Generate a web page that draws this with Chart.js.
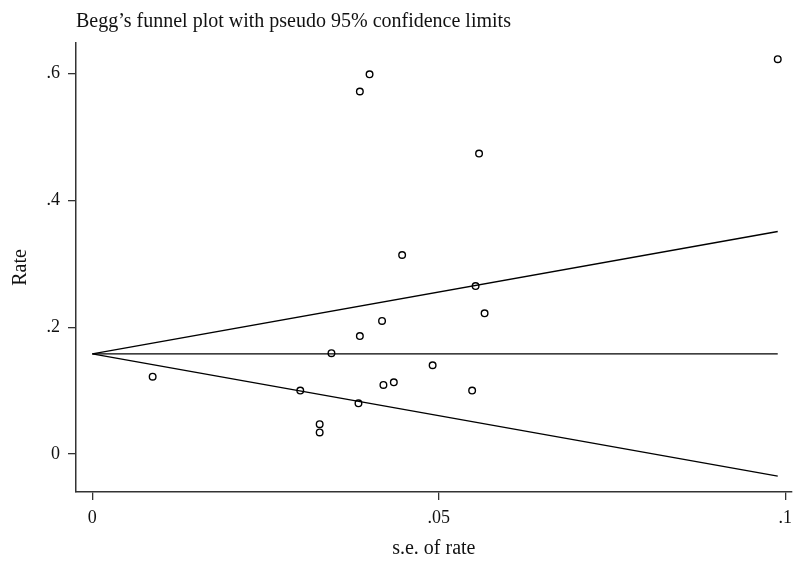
<!DOCTYPE html>
<html>
<head>
<meta charset="utf-8">
<script src="https://cdn.jsdelivr.net/npm/chart.js@4.4.1/dist/chart.umd.min.js"></script>
<style>
  html, body { margin: 0; padding: 0; background: #fff; }
  #wrap { width: 797px; height: 561px; position: relative; }
</style>
</head>
<body>
<div id="wrap"><canvas id="funnel"></canvas></div>
<script>
// study estimates (standard error, rate)
const seValues = [0.0400, 0.0386, 0.0989, 0.0558, 0.0447, 0.0553, 0.0566, 0.0418, 0.0386, 0.0345,
                  0.0491, 0.0420, 0.0435, 0.0548, 0.0300, 0.0384, 0.0328, 0.0328, 0.0087];
const rateValues = [0.599, 0.572, 0.623, 0.474, 0.314, 0.265, 0.222, 0.210, 0.186, 0.159,
                    0.140, 0.109, 0.113, 0.100, 0.100, 0.080, 0.047, 0.034, 0.122];

// pseudo 95% limits, read at se = 0 and se = max
const funnelSe = [0, 0.0989];
const pooledRate = [0.158, 0.158];
const upperLimit = [0.158, 0.351];
const lowerLimit = [0.158, -0.035];

const xTicks = [0, 0.05, 0.1];
const yTicks = [0, 0.2, 0.4, 0.6];

const serif = "'Liberation Serif', 'DejaVu Serif', serif";
const ink = '#000';
const axisInk = '#333';

function fmt(v) {
  if (v === 0) return '0';
  return String(+v.toFixed(3)).replace(/^0\./, '.').replace(/^-0\./, '-.');
}

function pairs(xs, ys) {
  return xs.map((x, i) => ({ x: x, y: ys[i] }));
}

function limitLine(ys) {
  return {
    type: 'line',
    data: pairs(funnelSe, ys),
    borderColor: ink,
    borderWidth: 1.4,
    pointRadius: 0,
    fill: false,
    tension: 0,
    order: 2
  };
}

new Chart(document.getElementById('funnel'), {
  type: 'scatter',
  data: {
    datasets: [
      {
        label: 'studies',
        data: pairs(seValues, rateValues),
        pointStyle: 'circle',
        pointRadius: 3.3,
        pointBorderWidth: 1.4,
        pointBorderColor: ink,
        pointBackgroundColor: 'rgba(255,255,255,0)',
        order: 1
      },
      limitLine(upperLimit),
      limitLine(pooledRate),
      limitLine(lowerLimit)
    ]
  },
  options: {
    responsive: true,
    maintainAspectRatio: false,
    animation: false,
    layout: { padding: 0 },
    plugins: {
      legend: { display: false },
      tooltip: { enabled: false },
      title: {
        display: true,
        text: 'Begg\u2019s funnel plot with pseudo 95% confidence limits',
        align: 'start',
        fullSize: false,
        color: '#111',
        font: { family: serif, size: 20, weight: 'normal' },
        padding: { top: 10, bottom: 9 }
      }
    },
    scales: {
      x: {
        type: 'linear',
        min: -0.00236,
        max: 0.1009,
        afterBuildTicks: (s) => { s.ticks = xTicks.map(v => ({ value: v })); },
        afterFit: (s) => { s.height = 69; s.paddingLeft = 0; s.paddingRight = 0; },
        grid: { drawOnChartArea: false, drawTicks: true, tickLength: 8, color: axisInk, lineWidth: 1.3 },
        border: { display: true, color: axisInk, width: 1.5 },
        ticks: {
          color: '#111',
          padding: 7,
          maxRotation: 0,
          autoSkip: false,
          font: { family: serif, size: 18 },
          callback: (v) => fmt(v)
        },
        title: {
          display: true,
          text: 's.e. of rate',
          color: '#111',
          font: { family: serif, size: 20 },
          padding: { top: 0, bottom: 0 }
        }
      },
      y: {
        type: 'linear',
        min: -0.06,
        max: 0.6485,
        afterBuildTicks: (s) => { s.ticks = yTicks.map(v => ({ value: v })); },
        afterFit: (s) => { s.width = 76; s.paddingTop = 0; s.paddingBottom = 0; },
        grid: { drawOnChartArea: false, drawTicks: true, tickLength: 8, color: axisInk, lineWidth: 1.3 },
        border: { display: true, color: axisInk, width: 1.5 },
        ticks: {
          color: '#111',
          padding: 8,
          autoSkip: false,
          font: { family: serif, size: 18 },
          callback: (v) => fmt(v)
        },
        title: {
          display: true,
          text: 'Rate',
          color: '#111',
          font: { family: serif, size: 20 },
          padding: { top: 9, bottom: 0 }
        }
      }
    }
  }
});
</script>
</body>
</html>
